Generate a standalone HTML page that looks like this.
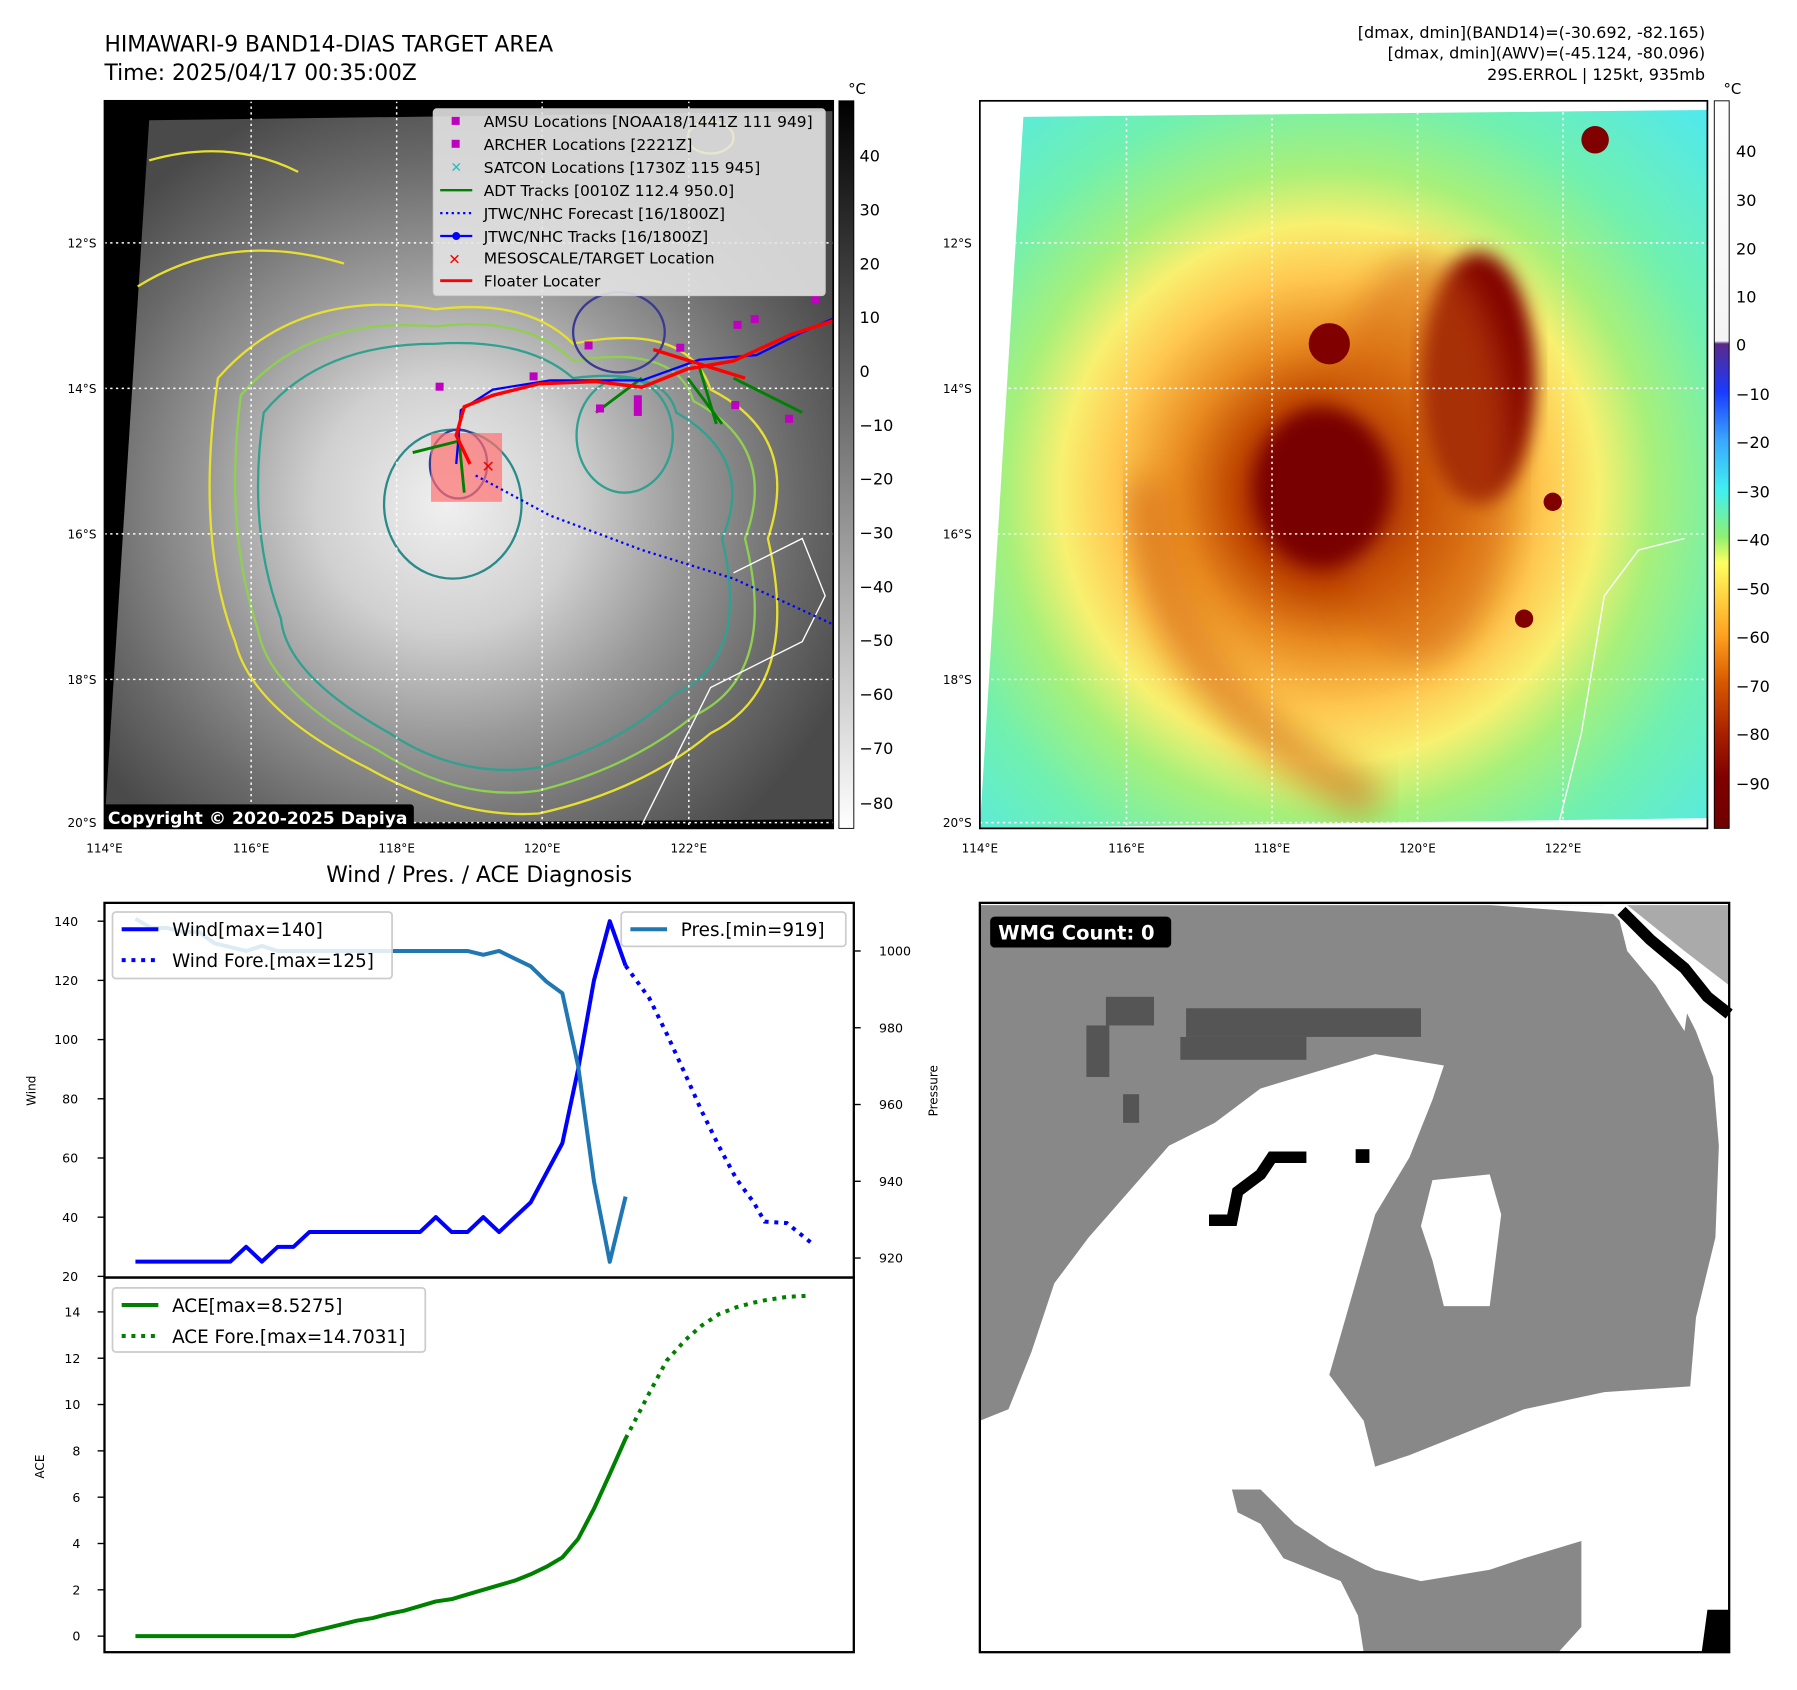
<!DOCTYPE html>
<html><head><meta charset="utf-8">
<style>
html,body{margin:0;padding:0;background:#fff;}
svg{display:block;font-family:"DejaVu Sans","Liberation Sans",sans-serif;}
</style></head>
<body>
<svg id="root" width="1797" height="1690" viewBox="0 0 1568 1475" xmlns="http://www.w3.org/2000/svg">
<defs>
  <radialGradient id="gsat" cx="0.47" cy="0.55" r="0.6">
    <stop offset="0" stop-color="#f0f0f0"/><stop offset="0.3" stop-color="#d0d0d0"/>
    <stop offset="0.55" stop-color="#999"/><stop offset="0.8" stop-color="#6a6a6a"/><stop offset="1" stop-color="#4a4a4a"/>
  </radialGradient>
  <radialGradient id="gcol" cx="1160" cy="430" r="470" gradientUnits="userSpaceOnUse">
    <stop offset="0" stop-color="#7a0000"/><stop offset="0.1" stop-color="#8a0a00"/>
    <stop offset="0.18" stop-color="#c04800"/><stop offset="0.28" stop-color="#e88a20"/>
    <stop offset="0.4" stop-color="#ffc850"/><stop offset="0.5" stop-color="#f8f070"/>
    <stop offset="0.6" stop-color="#a8f07a"/><stop offset="0.75" stop-color="#70f0b0"/><stop offset="1" stop-color="#50e8f0"/>
  </radialGradient>
  <linearGradient id="cbL" x1="0" y1="0" x2="0" y2="1">
    <stop offset="0" stop-color="#000"/><stop offset="1" stop-color="#fff"/>
  </linearGradient>
  <linearGradient id="cbR" x1="0" y1="88" x2="0" y2="723" gradientUnits="userSpaceOnUse">
    <stop offset="0" stop-color="#fff"/><stop offset="0.33" stop-color="#f4f4f4"/>
    <stop offset="0.334" stop-color="#5a2a8a"/><stop offset="0.4" stop-color="#1a3aff"/>
    <stop offset="0.467" stop-color="#3aa8ff"/><stop offset="0.535" stop-color="#40f0f0"/>
    <stop offset="0.6" stop-color="#90f070"/><stop offset="0.635" stop-color="#ffff60"/>
    <stop offset="0.735" stop-color="#ffa020"/><stop offset="0.8" stop-color="#d85800"/>
    <stop offset="0.87" stop-color="#a82000"/><stop offset="0.93" stop-color="#800000"/><stop offset="1" stop-color="#700000"/>
  </linearGradient>
  <filter id="blur8"><feGaussianBlur stdDeviation="8"/></filter>
  <filter id="blur15"><feGaussianBlur stdDeviation="15"/></filter>
  <clipPath id="clipL"><rect x="91" y="88" width="636" height="635"/></clipPath>
  <clipPath id="clipR"><polygon points="893,102 1490,96 1490,714 855,723"/></clipPath>
</defs>

<text x="91" y="45" font-size="19">HIMAWARI-9 BAND14-DIAS TARGET AREA</text>
<text x="91" y="70" font-size="19">Time: 2025/04/17 00:35:00Z</text>
<text x="1488" y="33" font-size="14" text-anchor="end">[dmax, dmin](BAND14)=(-30.692, -82.165)</text>
<text x="1488" y="51" font-size="14" text-anchor="end">[dmax, dmin](AWV)=(-45.124, -80.096)</text>
<text x="1488" y="70" font-size="14" text-anchor="end">29S.ERROL | 125kt, 935mb</text>

<g clip-path="url(#clipL)">
  <rect x="91" y="88" width="636" height="635" fill="#000"/>
  <polygon points="130,105 727,97 727,715 91,720" fill="url(#gsat)"/>
  <g fill="none" stroke-width="2">
    <path d="M190,330 Q260,250 380,270 Q460,260 500,300 Q600,280 620,340 Q700,380 670,470 Q700,600 620,640 Q560,690 470,710 Q400,715 320,670 Q220,620 205,560 Q170,470 190,330 Z" stroke="#e8e030"/>
    <path d="M210,345 Q270,275 380,285 Q460,275 500,315 Q590,300 605,350 Q680,390 650,470 Q680,590 605,625 Q550,670 470,690 Q400,700 330,655 Q235,605 225,550 Q195,460 210,345 Z" stroke="#90d050"/>
    <path d="M230,360 Q280,300 380,300 Q460,295 500,330 Q580,320 590,360 Q660,400 630,470 Q655,575 590,605 Q540,650 470,670 Q400,680 340,640 Q250,590 245,540 Q215,460 230,360 Z" stroke="#30a090"/>
    <ellipse cx="395" cy="440" rx="60" ry="65" stroke="#2a8a8a"/>
    <ellipse cx="400" cy="405" rx="25" ry="30" stroke="#3a3a90"/>
    <ellipse cx="540" cy="290" rx="40" ry="35" stroke="#3a3a90"/>
    <ellipse cx="545" cy="380" rx="42" ry="50" stroke="#30a090"/>
    <path d="M120,250 Q200,200 300,230 M130,140 Q200,120 260,150" stroke="#e8e030"/>
    <ellipse cx="620" cy="120" rx="20" ry="14" stroke="#e8e030"/>
  </g>
  <path d="M640,500 L700,470 L720,520 L700,560 L620,600 L580,680 L560,720" stroke="#fff" fill="none" stroke-width="1.2"/>
  <g stroke="#fff" stroke-dasharray="2,3" stroke-width="1.3">
    <line x1="219" y1="88" x2="219" y2="723"/><line x1="346" y1="88" x2="346" y2="723"/>
    <line x1="473" y1="88" x2="473" y2="723"/><line x1="601" y1="88" x2="601" y2="723"/>
    <line x1="91" y1="212" x2="727" y2="212"/><line x1="91" y1="339" x2="727" y2="339"/>
    <line x1="91" y1="466" x2="727" y2="466"/><line x1="91" y1="593" x2="727" y2="593"/><line x1="91" y1="718" x2="727" y2="718"/>
  </g>
  <rect x="376" y="378" width="62" height="60" fill="#ff7070" opacity="0.7"/>
  <path d="M415,415 L480,450 L560,480 L640,505 L727,545" stroke="#0000ff" stroke-dasharray="2,3" stroke-width="2" fill="none"/>
  <path d="M360,395 L400,385 M400,380 L405,430 M520,360 L560,330 M600,330 L630,370 M640,330 L700,360 M610,320 L625,370" stroke="#008000" stroke-width="2.5" fill="none"/>
  <path d="M398,405 L402,358 L430,340 L480,332 L560,332 L610,314 L660,310 L700,290 L727,278" stroke="#0000ff" stroke-width="2" fill="none"/>
  <path d="M410,405 L398,380 L405,355 L430,345 L470,335 L520,333 L560,338 L600,322 L640,315 L690,292 L727,280 M570,305 L650,330" stroke="#ff0000" stroke-width="3" fill="none"/>
  <text x="420" y="412" font-size="14" fill="#f00" font-weight="bold">✕</text>
  <g fill="#c000c0">
    <rect x="380" y="334" width="7" height="7"/><rect x="510" y="298" width="7" height="7"/><rect x="520" y="353" width="7" height="7"/>
    <rect x="553" y="345" width="7" height="18"/><rect x="640" y="280" width="7" height="7"/><rect x="655" y="275" width="7" height="7"/>
    <rect x="708" y="258" width="7" height="7"/><rect x="685" y="362" width="7" height="7"/><rect x="638" y="350" width="7" height="7"/>
    <rect x="462" y="325" width="7" height="7"/><rect x="590" y="300" width="7" height="7"/>
  </g>
  <rect x="89" y="702" width="272" height="22" rx="3" fill="#000"/>
  <text x="94" y="719" font-size="15" font-weight="bold" fill="#fff">Copyright © 2020-2025 Dapiya</text>
</g>
<rect x="91" y="88" width="636" height="635" fill="none" stroke="#000" stroke-width="1.5"/>

<g font-size="13.5">
  <rect x="378" y="95" width="342" height="163" rx="3" fill="#e6e6e6" fill-opacity="0.88" stroke="#ccc"/>
  <rect x="394" y="102" width="7" height="7" fill="#c000c0"/><text x="422" y="111">AMSU Locations [NOAA18/1441Z 111 949]</text>
  <rect x="394" y="122" width="7" height="7" fill="#c000c0"/><text x="422" y="131">ARCHER Locations [2221Z]</text>
  <text x="393" y="150" fill="#20c0c0" font-size="12">✕</text><text x="422" y="151">SATCON Locations [1730Z 115 945]</text>
  <line x1="384" y1="166" x2="412" y2="166" stroke="#008000" stroke-width="2"/><text x="422" y="171">ADT Tracks [0010Z 112.4 950.0]</text>
  <line x1="384" y1="186" x2="412" y2="186" stroke="#00f" stroke-width="2" stroke-dasharray="2,3"/><text x="422" y="191">JTWC/NHC Forecast [16/1800Z]</text>
  <line x1="384" y1="206" x2="412" y2="206" stroke="#00f" stroke-width="2"/><circle cx="398" cy="206" r="3.5" fill="#00f"/><text x="422" y="211">JTWC/NHC Tracks [16/1800Z]</text>
  <text x="391" y="231" fill="#f00" font-weight="bold" font-size="13">✕</text><text x="422" y="230">MESOSCALE/TARGET Location</text>
  <line x1="384" y1="245" x2="412" y2="245" stroke="#f00" stroke-width="2.5"/><text x="422" y="250">Floater Locater</text>
</g>

<g font-size="14">
  <rect x="732" y="88" width="13" height="635" fill="url(#cbL)" stroke="#000" stroke-width="0.8"/>
  <text x="740" y="82" font-size="13">°C</text>
  <text x="750" y="141">40</text><text x="750" y="188">30</text><text x="750" y="235">20</text><text x="750" y="282">10</text>
  <text x="750" y="329">0</text><text x="750" y="376">−10</text><text x="750" y="423">−20</text><text x="750" y="470">−30</text>
  <text x="750" y="517">−40</text><text x="750" y="564">−50</text><text x="750" y="611">−60</text><text x="750" y="658">−70</text><text x="750" y="706">−80</text>
</g>

<g>
  <g clip-path="url(#clipR)">
    <rect x="855" y="88" width="640" height="640" fill="url(#gcol)"/>
    <ellipse cx="1290" cy="330" rx="50" ry="110" fill="#800000" filter="url(#blur8)"/>
    <ellipse cx="1240" cy="400" rx="80" ry="180" fill="#d06010" opacity="0.5" filter="url(#blur15)"/>
    <path d="M1000,420 Q1000,600 1200,700" stroke="#d06010" stroke-width="35" fill="none" opacity="0.6" filter="url(#blur15)"/>
    <ellipse cx="1155" cy="425" rx="58" ry="68" fill="#780000" filter="url(#blur8)"/>
    <circle cx="1160" cy="300" r="18" fill="#800000"/><circle cx="1392" cy="122" r="12" fill="#800000"/>
    <circle cx="1355" cy="438" r="8" fill="#800000"/><circle cx="1330" cy="540" r="8" fill="#800000"/>
    <path d="M1360,720 L1380,640 L1400,520 L1430,480 L1470,470" stroke="#fff" fill="none" stroke-width="1.2"/>
    <g stroke="#fff" stroke-dasharray="2,3" stroke-width="1.3">
      <line x1="983" y1="88" x2="983" y2="723"/><line x1="1110" y1="88" x2="1110" y2="723"/>
      <line x1="1237" y1="88" x2="1237" y2="723"/><line x1="1364" y1="88" x2="1364" y2="723"/>
      <line x1="855" y1="212" x2="1490" y2="212"/><line x1="855" y1="339" x2="1490" y2="339"/>
      <line x1="855" y1="466" x2="1490" y2="466"/><line x1="855" y1="593" x2="1490" y2="593"/><line x1="855" y1="718" x2="1490" y2="718"/>
    </g>
  </g>
  <rect x="855" y="88" width="635" height="635" fill="none" stroke="#000" stroke-width="1.5"/>
</g>

<g font-size="14">
  <rect x="1496" y="88" width="13" height="635" fill="url(#cbR)" stroke="#000" stroke-width="0.8"/>
  <text x="1504" y="82" font-size="13">°C</text>
  <text x="1515" y="137">40</text><text x="1515" y="180">30</text><text x="1515" y="222">20</text><text x="1515" y="264">10</text>
  <text x="1515" y="306">0</text><text x="1515" y="349">−10</text><text x="1515" y="391">−20</text><text x="1515" y="434">−30</text>
  <text x="1515" y="476">−40</text><text x="1515" y="519">−50</text><text x="1515" y="561">−60</text><text x="1515" y="604">−70</text>
  <text x="1515" y="646">−80</text><text x="1515" y="689">−90</text>
</g>

<g font-size="10.5">
  <g text-anchor="end">
    <text x="84" y="216">12°S</text><text x="84" y="343">14°S</text><text x="84" y="470">16°S</text><text x="84" y="597">18°S</text><text x="84" y="722">20°S</text>
    <text x="848" y="216">12°S</text><text x="848" y="343">14°S</text><text x="848" y="470">16°S</text><text x="848" y="597">18°S</text><text x="848" y="722">20°S</text>
  </g>
  <g text-anchor="middle">
    <text x="91" y="744">114°E</text><text x="219" y="744">116°E</text><text x="346" y="744">118°E</text><text x="473" y="744">120°E</text><text x="601" y="744">122°E</text>
    <text x="855" y="744">114°E</text><text x="983" y="744">116°E</text><text x="1110" y="744">118°E</text><text x="1237" y="744">120°E</text><text x="1364" y="744">122°E</text>
  </g>
</g>

<g>
  <rect x="855" y="788" width="654" height="654" fill="#fff"/>
  <polygon fill="#888" points="855,790 1400,790 1410,800 1440,830 1460,860 1480,900 1495,940 1500,1000 1497,1080 1480,1150 1475,1210 1400,1215 1330,1230 1280,1250 1230,1270 1200,1280 1190,1240 1160,1200 1180,1130 1200,1060 1230,1010 1250,960 1260,930 1200,920 1150,935 1100,950 1060,980 1020,1000 985,1040 950,1080 920,1120 900,1180 880,1230 855,1240"/>
  <polygon fill="#fff" points="1250,1030 1300,1025 1310,1060 1305,1100 1300,1140 1260,1140 1250,1100 1240,1070"/>
  <polygon fill="#fff" points="1300,790 1410,790 1420,830 1445,860 1470,900 1480,830 1440,800"/>
  <polygon fill="#888" points="1075,1300 1100,1300 1130,1330 1160,1350 1200,1370 1240,1380 1300,1370 1330,1360 1380,1345 1380,1420 1360,1442 1190,1442 1185,1410 1170,1380 1120,1360 1100,1330 1080,1320"/>
  <rect x="965" y="870" width="42" height="25" fill="#555"/><rect x="948" y="895" width="20" height="45" fill="#555"/>
  <rect x="1035" y="880" width="205" height="25" fill="#555"/><rect x="1030" y="905" width="110" height="20" fill="#555"/>
  <rect x="980" y="955" width="14" height="25" fill="#555"/>
  <path d="M1055,1065 L1075,1065 L1080,1040 L1100,1025 L1110,1010 L1140,1010" stroke="#000" stroke-width="10" fill="none"/>
  <rect x="1183" y="1003" width="12" height="12" fill="#000"/>
  <polygon fill="#aaa" points="1420,790 1509,790 1509,860 1470,830"/>
  <path d="M1415,795 L1440,820 L1470,845 L1490,870 L1509,885" stroke="#000" stroke-width="10" fill="none"/>
  <polygon fill="#000" points="1490,1405 1509,1405 1509,1442 1485,1442"/>
  <rect x="855" y="788" width="654" height="654" fill="none" stroke="#000" stroke-width="2"/>
  <rect x="864" y="800" width="158" height="27" rx="4" fill="#000"/>
  <text x="871" y="820" font-size="17" font-weight="bold" fill="#fff">WMG Count: 0</text>
</g>

<g id="chart">
  <text x="418" y="770" font-size="19" text-anchor="middle">Wind / Pres. / ACE Diagnosis</text>
  <text font-size="10.5" transform="translate(31,952) rotate(-90)" text-anchor="middle">Wind</text>
  <text font-size="10.5" transform="translate(818,952) rotate(-90)" text-anchor="middle">Pressure</text>
  <text font-size="10.5" transform="translate(38,1280) rotate(-90)" text-anchor="middle">ACE</text>
</g>
</svg>
<script>
var windTicks=[20,40,60,80,100,120,140];
var presTicks=[920,940,960,980,1000];
var aceTicks=[0,2,4,6,8,10,12,14];
var windObs=[25,25,25,25,25,25,25,30,25,30,30,35,35,35,35,35,35,35,35,40,35,35,40,35,40,45,55,65,90,120,140,125];
var presObs=[1008.4,1006,1006,1005,1005,1002,1001,1000,1001.3,1000,1000,1000,1000,1000,1000,1000,1000,1000,1000,1000,1000,1000,999,1000,998,996,992,989,970,940,919,936];
var aceObs=[0,0,0,0,0,0,0,0,0,0,0,0.18,0.33,0.5,0.67,0.78,0.96,1.1,1.3,1.5,1.6,1.8,2.0,2.2,2.4,2.67,3.0,3.4,4.2,5.5,7.0,8.53];
var foreX=[31,32.5,33.6,34.8,35.8,36.9,38,39.1,39.8,41.2,42.7];
var windFore=[125,114,102,88,76,64,53,45,38.5,38,31.5];
var aceFore=[8.53,10.5,11.9,12.8,13.4,13.9,14.2,14.4,14.5,14.65,14.7];

var NS='http://www.w3.org/2000/svg';
var chart=document.getElementById('chart');
function X(i){return 118+i*13.8;}
function YW(v){return 1114-(v-20)*(310/120);}
function YP(v){return 1098-(v-920)*(268/80);}
function YA(v){return 1428-v*(283/14);}
function mk(tag,attrs,parent){var e=document.createElementNS(NS,tag);for(var k in attrs)e.setAttribute(k,attrs[k]);(parent||chart).appendChild(e);return e;}
function pts(xs,ys,f){var s=[];for(var i=0;i<ys.length;i++)s.push(X(xs?xs[i]:i).toFixed(1)+','+f(ys[i]).toFixed(1));return s.join(' ');}

var f1=mk('rect',{x:91,y:788,width:654,height:327,fill:'none',stroke:'#000','stroke-width':2});


var f2=mk('rect',{x:91,y:1115,width:654,height:327,fill:'none',stroke:'#000','stroke-width':2});



windTicks.forEach(function(v){
  var y=YW(v);
  mk('line',{x1:85,y1:y,x2:91,y2:y,stroke:'#000','stroke-width':1.2});
  var t=mk('text',{x:68,y:y+4,'font-size':11,'text-anchor':'end'});t.textContent=v;
  
  
});
presTicks.forEach(function(v){
  var y=YP(v);
  mk('line',{x1:745,y1:y,x2:751,y2:y,stroke:'#000','stroke-width':1.2});
  var t=mk('text',{x:767,y:y+4,'font-size':11});t.textContent=v;
  
  
});
aceTicks.forEach(function(v){
  var y=YA(v);
  mk('line',{x1:85,y1:y,x2:91,y2:y,stroke:'#000','stroke-width':1.2});
  var t=mk('text',{x:70,y:y+4,'font-size':11,'text-anchor':'end'});t.textContent=v;
  
  
});

var l1=mk('polyline',{points:pts(null,windObs,YW),fill:'none',stroke:'#0000ff','stroke-width':3.5,'stroke-linejoin':'round'});


var l2=mk('polyline',{points:pts(foreX,windFore,YW),fill:'none',stroke:'#0000ff','stroke-width':3.5,'stroke-dasharray':'3.5,5'});


var l3=mk('polyline',{points:pts(null,presObs,YP),fill:'none',stroke:'#1f77b4','stroke-width':3.5,'stroke-linejoin':'round'});


var l4=mk('polyline',{points:pts(null,aceObs,YA),fill:'none',stroke:'#008000','stroke-width':3.5,'stroke-linejoin':'round'});


var l5=mk('polyline',{points:pts(foreX,aceFore,YA),fill:'none',stroke:'#008000','stroke-width':3.5,'stroke-dasharray':'3.5,5'});



function legend(name,x,y,w,h,items){
  var g=mk('g',{});
  
  
  mk('rect',{x:x,y:y,width:w,height:h,rx:3,fill:'#fff','fill-opacity':0.85,stroke:'#ccc','stroke-width':1.5},g);
  items.forEach(function(it,i){
    var yy=y+15+i*27;
    var a={x1:x+8,y1:yy,x2:x+40,y2:yy,stroke:it[1],'stroke-width':3.5};
    if(it[2])a['stroke-dasharray']='3.5,5';
    mk('line',a,g);
    var t=mk('text',{x:x+52,y:yy+6,'font-size':16},g);t.textContent=it[0];
  });
}
legend('wind-legend',98,796,244,58,[['Wind[max=140]','#0000ff',false],['Wind Fore.[max=125]','#0000ff',true]]);
legend('pressure-legend',542,796,196,30,[['Pres.[min=919]','#1f77b4',false]]);
legend('ace-legend',98,1124,273,56,[['ACE[max=8.5275]','#008000',false],['ACE Fore.[max=14.7031]','#008000',true]]);
</script>
</body></html>
